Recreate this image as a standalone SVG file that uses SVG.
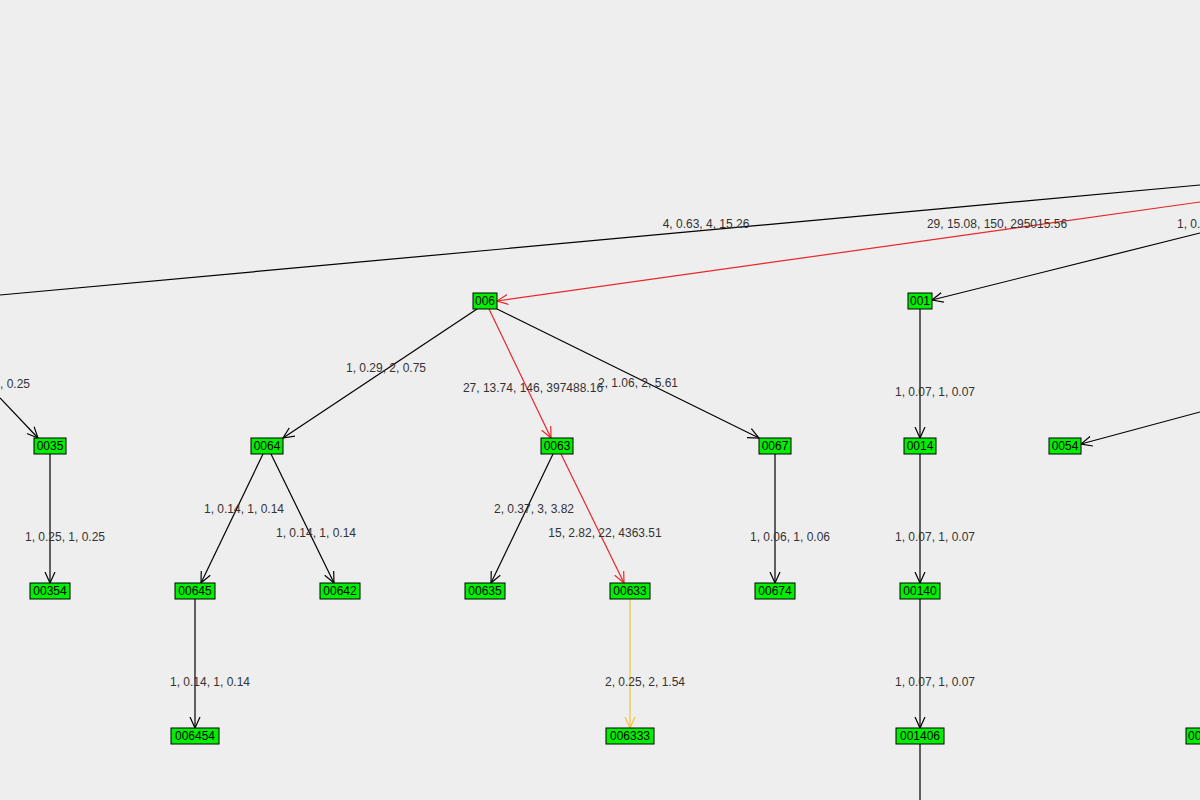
<svg xmlns="http://www.w3.org/2000/svg" width="1200" height="800" viewBox="0 0 1200 800">
<defs>
<style>
.n rect{fill:#00ee00;stroke:#000;stroke-width:1}
.n text{font-family:"Liberation Sans",Arial,sans-serif;font-size:12px;fill:#000;text-anchor:middle}
.e line{stroke:#000;stroke-width:1.2;fill:none}
.e line.r{stroke:#e8262a}
.e line.y{stroke:#f4c23a}
.l{font-family:"Liberation Sans",Arial,sans-serif;font-size:12px;fill:#333;text-anchor:middle}
</style>
<marker id="a" viewBox="0 0 12 12" refX="11" refY="6" markerWidth="12" markerHeight="12" markerUnits="userSpaceOnUse" orient="auto"><path d="M0,1 L11,6 L0,11" fill="none" stroke="#000" stroke-width="1.2"/></marker>
<marker id="ar" viewBox="0 0 12 12" refX="11" refY="6" markerWidth="12" markerHeight="12" markerUnits="userSpaceOnUse" orient="auto"><path d="M0,1 L11,6 L0,11" fill="none" stroke="#e8262a" stroke-width="1.2"/></marker>
<marker id="ay" viewBox="0 0 12 12" refX="11" refY="6" markerWidth="12" markerHeight="12" markerUnits="userSpaceOnUse" orient="auto"><path d="M0,1 L11,6 L0,11" fill="none" stroke="#f4c23a" stroke-width="1.2"/></marker>
</defs>
<rect width="1200" height="800" fill="#eeeeee"/>
<g id="connectors" class="e">
<line x1="1200" y1="185" x2="0" y2="295"/>
<line class="r" x1="1200" y1="202" x2="497" y2="301" marker-end="url(#ar)"/>
<line x1="1200" y1="233" x2="932" y2="300" marker-end="url(#a)"/>
<line x1="0" y1="398" x2="38" y2="438" marker-end="url(#a)"/>
<line x1="477" y1="309" x2="283" y2="438" marker-end="url(#a)"/>
<line class="r" x1="489" y1="309" x2="551" y2="438" marker-end="url(#ar)"/>
<line x1="497" y1="309" x2="759" y2="438" marker-end="url(#a)"/>
<line x1="920" y1="309" x2="920" y2="438" marker-end="url(#a)"/>
<line x1="1200" y1="412" x2="1081" y2="444" marker-end="url(#a)"/>
<line x1="50" y1="454" x2="50" y2="583" marker-end="url(#a)"/>
<line x1="263" y1="454" x2="201" y2="583" marker-end="url(#a)"/>
<line x1="271" y1="454" x2="334" y2="583" marker-end="url(#a)"/>
<line x1="553" y1="454" x2="491" y2="583" marker-end="url(#a)"/>
<line class="r" x1="561" y1="454" x2="624" y2="583" marker-end="url(#ar)"/>
<line x1="775" y1="454" x2="775" y2="583" marker-end="url(#a)"/>
<line x1="920" y1="454" x2="920" y2="583" marker-end="url(#a)"/>
<line x1="195" y1="599" x2="195" y2="728" marker-end="url(#a)"/>
<line class="y" x1="630" y1="599" x2="630" y2="728" marker-end="url(#ay)"/>
<line x1="920" y1="599" x2="920" y2="728" marker-end="url(#a)"/>
<line x1="920" y1="744" x2="920" y2="800"/>
</g>
<g id="labels">
<text class="l" x="706" y="228">4, 0.63, 4, 15.26</text>
<text class="l" x="997" y="228">29, 15.08, 150, 295015.56</text>
<text class="l" x="1177" y="228" text-anchor="start" style="text-anchor:start">1, 0.</text>
<text class="l" x="15" y="388">, 0.25</text>
<text class="l" x="386" y="372">1, 0.29, 2, 0.75</text>
<text class="l" x="533" y="392">27, 13.74, 146, 397488.16</text>
<text class="l" x="638" y="387">2, 1.06, 2, 5.61</text>
<text class="l" x="935" y="396">1, 0.07, 1, 0.07</text>
<text class="l" x="65" y="541">1, 0.25, 1, 0.25</text>
<text class="l" x="244" y="513">1, 0.14, 1, 0.14</text>
<text class="l" x="316" y="537">1, 0.14, 1, 0.14</text>
<text class="l" x="534" y="513">2, 0.37, 3, 3.82</text>
<text class="l" x="605" y="537">15, 2.82, 22, 4363.51</text>
<text class="l" x="790" y="541">1, 0.06, 1, 0.06</text>
<text class="l" x="935" y="541">1, 0.07, 1, 0.07</text>
<text class="l" x="210" y="686">1, 0.14, 1, 0.14</text>
<text class="l" x="645" y="686">2, 0.25, 2, 1.54</text>
<text class="l" x="935" y="686">1, 0.07, 1, 0.07</text>
</g>
<g id="n006" class="n"><rect x="473" y="293" width="24" height="16"/><text x="485" y="305">006</text></g>
<g id="n001" class="n"><rect x="908" y="293" width="24" height="16"/><text x="920" y="305">001</text></g>
<g id="n0035" class="n"><rect x="34" y="438" width="32" height="16"/><text x="50" y="450">0035</text></g>
<g id="n0064" class="n"><rect x="251" y="438" width="32" height="16"/><text x="267" y="450">0064</text></g>
<g id="n0063" class="n"><rect x="541" y="438" width="32" height="16"/><text x="557" y="450">0063</text></g>
<g id="n0067" class="n"><rect x="759" y="438" width="32" height="16"/><text x="775" y="450">0067</text></g>
<g id="n0014" class="n"><rect x="904" y="438" width="32" height="16"/><text x="920" y="450">0014</text></g>
<g id="n0054" class="n"><rect x="1049" y="438" width="32" height="16"/><text x="1065" y="450">0054</text></g>
<g id="n00354" class="n"><rect x="30" y="583" width="40" height="16"/><text x="50" y="595">00354</text></g>
<g id="n00645" class="n"><rect x="175" y="583" width="40" height="16"/><text x="195" y="595">00645</text></g>
<g id="n00642" class="n"><rect x="320" y="583" width="40" height="16"/><text x="340" y="595">00642</text></g>
<g id="n00635" class="n"><rect x="465" y="583" width="40" height="16"/><text x="485" y="595">00635</text></g>
<g id="n00633" class="n"><rect x="610" y="583" width="40" height="16"/><text x="630" y="595">00633</text></g>
<g id="n00674" class="n"><rect x="755" y="583" width="40" height="16"/><text x="775" y="595">00674</text></g>
<g id="n00140" class="n"><rect x="900" y="583" width="40" height="16"/><text x="920" y="595">00140</text></g>
<g id="n006454" class="n"><rect x="171" y="728" width="48" height="16"/><text x="195" y="740">006454</text></g>
<g id="n006333" class="n"><rect x="606" y="728" width="48" height="16"/><text x="630" y="740">006333</text></g>
<g id="n001406" class="n"><rect x="896" y="728" width="48" height="16"/><text x="920" y="740">001406</text></g>
<g id="n00edge" class="n"><rect x="1186" y="728" width="48" height="16"/><text x="1188" y="740" style="text-anchor:start">00</text></g>
</svg>
